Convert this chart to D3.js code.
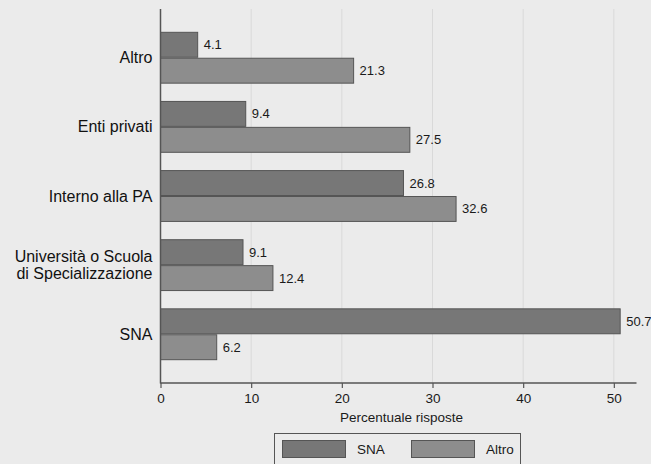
<!DOCTYPE html>
<html><head><meta charset="utf-8">
<script src="https://cdn.jsdelivr.net/npm/d3@7"></script>
<style>body{margin:0;background:#ebebeb}svg{display:block;font-family:"Liberation Sans",Arial,sans-serif}</style>
</head><body>
<svg id="c" width="651" height="464"></svg>
<script>
const categories = ["Altro","Enti privati","Interno alla PA","Università o Scuola di Specializzazione","SNA"];
const categoryLines = [["Altro"],["Enti privati"],["Interno alla PA"],["Università o Scuola","di Specializzazione"],["SNA"]];
const seriesNames = ["SNA","Altro"];
const snaValues = [4.1, 9.4, 26.8, 9.1, 50.7];
const altroValues = [21.3, 27.5, 32.6, 12.4, 6.2];
const xTicks = [0,10,20,30,40,50];
const xTitle = "Percentuale risposte";

const colors = {SNA:"#777777", Altro:"#8d8d8d"};
const svg = d3.select("#c");
svg.append("rect").attr("width",651).attr("height",464).attr("fill","#ebebeb");

const x = d3.scaleLinear().domain([0,52.5]).range([160.5,636.5]);
const y = d3.scaleBand().domain(categories).range([9,383]).paddingInner(0.25).paddingOuter(0.33);
const ySub = d3.scaleBand().domain(seriesNames).range([0,y.bandwidth()]);

// gridlines
svg.append("g").selectAll("line").data(xTicks.filter(d=>d>0)).join("line")
  .attr("x1",d=>x(d)).attr("x2",d=>x(d)).attr("y1",9).attr("y2",383)
  .attr("stroke","#d9d9d9").attr("stroke-width",1);

const rows = categories.map((c,i)=>({cat:c, vals:[{s:"SNA",v:snaValues[i]},{s:"Altro",v:altroValues[i]}]}));
const g = svg.append("g").selectAll("g").data(rows).join("g")
  .attr("transform",d=>`translate(0,${y(d.cat)})`);
g.selectAll("rect").data(d=>d.vals).join("rect")
  .attr("x",x(0)).attr("y",d=>ySub(d.s)+0.5).attr("width",d=>x(d.v)-x(0)).attr("height",ySub.bandwidth()-1)
  .attr("fill",d=>colors[d.s]).attr("stroke","#555").attr("stroke-width",1);
g.selectAll("text").data(d=>d.vals).join("text")
  .attr("x",d=>x(d.v)+6).attr("y",d=>ySub(d.s)+ySub.bandwidth()/2).attr("dy","0.35em")
  .attr("font-size",13).attr("fill","#1a1a1a").text(d=>d.v.toFixed(1));

// y labels
const yl = svg.append("g").selectAll("text").data(categories).join("text")
  .attr("text-anchor","end").attr("font-size",16).attr("fill","#111")
  .attr("x",152.5);
yl.each(function(d,i){
  const lines = categoryLines[i];
  const cy = y(d)+y.bandwidth()/2;
  const lh = 17;
  const t = d3.select(this);
  lines.forEach((ln,j)=>{
    t.append("tspan").attr("x",152.5).attr("y",cy+(j-(lines.length-1)/2)*lh).attr("dy","0.35em").text(ln);
  });
});

// x axis
const xa = svg.append("g").attr("transform","translate(0,383)")
  .call(d3.axisBottom(x).tickValues(xTicks).tickSize(5).tickPadding(5).tickFormat(d3.format("d")));
xa.select(".domain").attr("stroke","#555").attr("stroke-width",1.5).attr("d",`M${x(0)},0H636.5`);
xa.selectAll(".tick line").attr("stroke","#555").attr("stroke-width",1.2);
xa.selectAll(".tick text").attr("font-size",13.5).attr("fill","#1a1a1a").attr("font-family","Liberation Sans, Arial, sans-serif");
// y axis line
svg.append("line").attr("x1",x(0)).attr("x2",x(0)).attr("y1",9).attr("y2",383.5).attr("stroke","#555").attr("stroke-width",1.5);

svg.append("text").attr("x",(x(0)+636.5)/2+3).attr("y",417).attr("dy","0.35em").attr("text-anchor","middle")
  .attr("font-size",13.5).attr("fill","#1a1a1a").text(xTitle);

// legend
const lg = svg.append("g");
lg.append("rect").attr("x",274.5).attr("y",433.5).attr("width",246).attr("height",40).attr("fill","#ebebeb").attr("stroke","#555");
const items = [{s:"SNA",x:282},{s:"Altro",x:411}];
lg.selectAll("rect.sw").data(items).join("rect").attr("class","sw")
  .attr("x",d=>d.x+0.5).attr("y",440.5).attr("width",63).attr("height",17)
  .attr("fill",d=>colors[d.s]).attr("stroke","#555");
lg.selectAll("text").data(items).join("text")
  .attr("x",d=>d.x+75).attr("y",449).attr("dy","0.35em").attr("font-size",13.5).attr("fill","#1a1a1a").text(d=>d.s);
</script>
</body></html>
